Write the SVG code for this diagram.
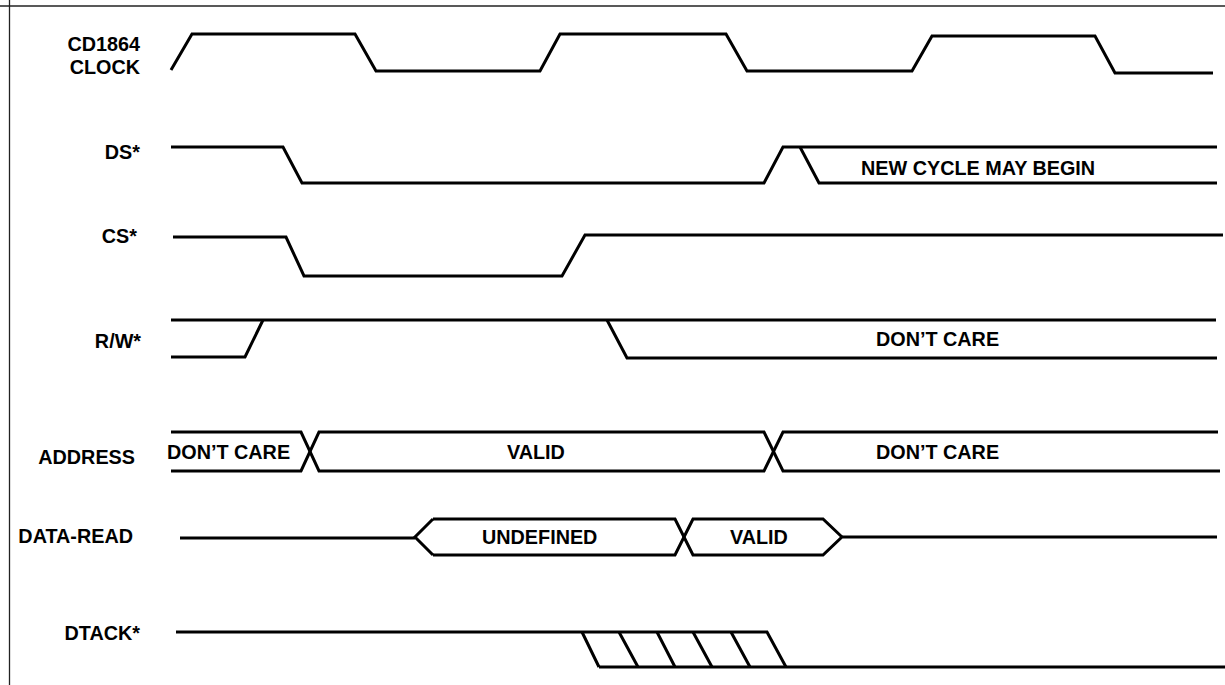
<svg xmlns="http://www.w3.org/2000/svg" width="1225" height="685" viewBox="0 0 1225 685">
<style>
.frame{fill:none;stroke:#222;stroke-width:1.3}
.sig{fill:none;stroke:#000;stroke-width:3;stroke-linejoin:miter;stroke-linecap:butt}
.t{font-family:"Liberation Sans",Arial,sans-serif;font-weight:bold;font-size:19.8px;fill:#000}
.lbl{text-anchor:end}
</style>
<rect width="1225" height="685" fill="#fff"/>
<g id="frame">
<line class="frame" x1="0" y1="6" x2="1225" y2="6"/>
<line class="frame" x1="9.5" y1="0" x2="9.5" y2="685"/>
</g>
<g id="labels">
<text class="t lbl" x="140" y="50.5">CD1864</text>
<text class="t lbl" x="140" y="74">CLOCK</text>
<text class="t lbl" x="140" y="158.5">DS*</text>
<text class="t lbl" x="137" y="243">CS*</text>
<text class="t lbl" x="141" y="348">R/W*</text>
<text class="t lbl" x="135" y="463.5">ADDRESS</text>
<text class="t lbl" x="133" y="543">DATA-READ</text>
<text class="t lbl" x="140" y="640">DTACK*</text>
</g>
<g id="connectors">
<g id="clock">
<path class="sig" d="M171,70 L192,34 L355,34 L376,71 L540,71 L560,34 L726,34 L747,71 L912,71 L932,36 L1095,36 L1115,73 L1213,73"/>
</g>
<g id="ds">
<path class="sig" d="M171,147 L283,147 L302,183 L764,183 L783,147 L1217,147"/>
<path class="sig" d="M800,147 L819,183 L1217,183"/>
<text class="t" x="861" y="175">NEW CYCLE MAY BEGIN</text>
</g>
<g id="cs">
<path class="sig" d="M173,237 L286,237 L304,276 L562,276 L585,235 L1223,235"/>
</g>
<g id="rw">
<path class="sig" d="M171,320 L1216,320"/>
<path class="sig" d="M171,357 L245,357 L263,320"/>
<path class="sig" d="M607,320 L627,358 L1217,358"/>
<text class="t" x="876" y="345.5">DON’T CARE</text>
</g>
<g id="address">
<path class="sig" d="M171,432 L301,432 L319,471 L764,471 L783,432 L1218,432"/>
<path class="sig" d="M171,471 L301,471 L319,432 L764,432 L783,471 L1220,471"/>
<text class="t" x="167" y="458.5">DON’T CARE</text>
<text class="t" x="507" y="459">VALID</text>
<text class="t" x="876" y="459">DON’T CARE</text>
</g>
<g id="data-read">
<path class="sig" d="M180,538 L415,538"/>
<path class="sig" d="M433,519 L415,537 L433,555"/>
<path class="sig" d="M433,519 L675,519 L693,555 L823,555 L842,537 L1217,537"/>
<path class="sig" d="M433,555 L675,555 L693,519 L823,519 L842,537"/>
<text class="t" x="482" y="544">UNDEFINED</text>
<text class="t" x="730" y="544">VALID</text>
</g>
<g id="dtack">
<path class="sig" d="M176,632 L767,632 L786,667"/>
<path class="sig" d="M599,667 L1225,667"/>
<path class="sig" d="M582,632 L599,667 M619,632 L638,667 M657,632 L675,667 M693,632 L712,667 M731,632 L750,667"/>
</g>
</g>
</svg>
